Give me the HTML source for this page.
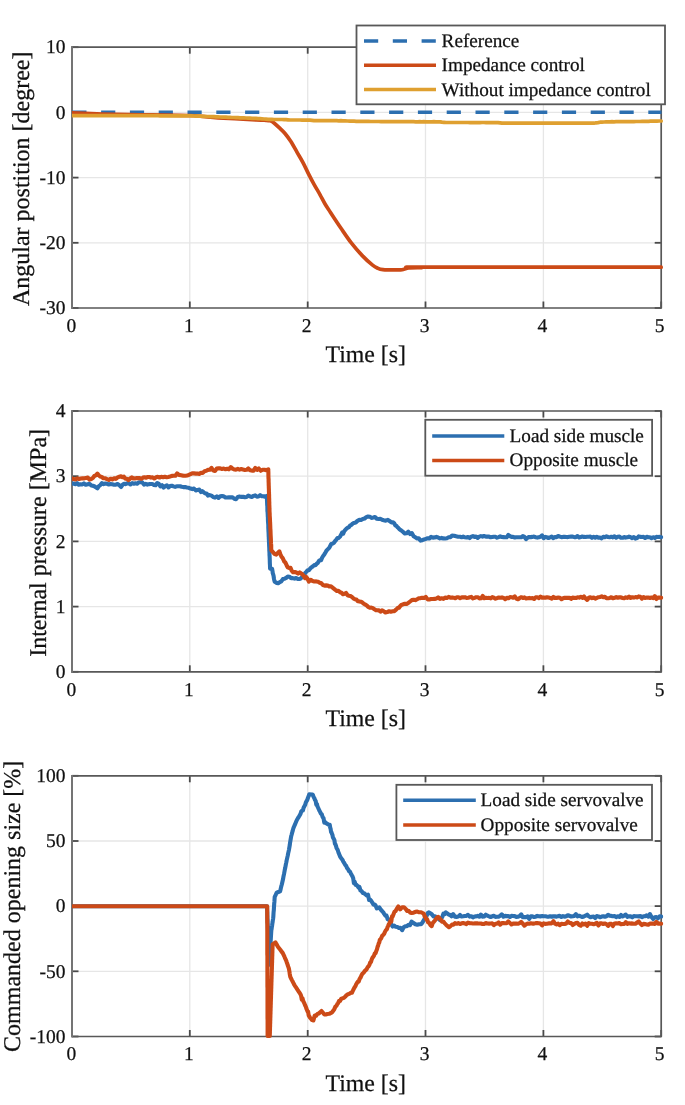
<!DOCTYPE html>
<html><head><meta charset="utf-8"><style>
html,body{margin:0;padding:0;background:#fff;}
svg{display:block;}
text{font-family:"Liberation Serif",serif;fill:#111;text-rendering:geometricPrecision;stroke:#111;stroke-width:0.25px;}
svg{will-change:transform;}
</style></head><body>
<svg width="685" height="1105" viewBox="0 0 685 1105">
<rect width="685" height="1105" fill="#fff"/>
<defs><clipPath id="clip0"><rect x="72.0" y="44.2" width="591.4" height="266.8"/></clipPath><clipPath id="clip1"><rect x="72.0" y="408.0" width="591.4" height="266.8"/></clipPath><clipPath id="clip2"><rect x="72.0" y="772.8" width="591.4" height="266.7"/></clipPath></defs>
<line x1="189.8" y1="47.2" x2="189.8" y2="308.0" stroke="#e6e6e6" stroke-width="1.3"/>
<line x1="307.7" y1="47.2" x2="307.7" y2="308.0" stroke="#e6e6e6" stroke-width="1.3"/>
<line x1="425.5" y1="47.2" x2="425.5" y2="308.0" stroke="#e6e6e6" stroke-width="1.3"/>
<line x1="543.4" y1="47.2" x2="543.4" y2="308.0" stroke="#e6e6e6" stroke-width="1.3"/>
<line x1="72.0" y1="112.4" x2="661.2" y2="112.4" stroke="#e6e6e6" stroke-width="1.3"/>
<line x1="72.0" y1="177.6" x2="661.2" y2="177.6" stroke="#e6e6e6" stroke-width="1.3"/>
<line x1="72.0" y1="242.8" x2="661.2" y2="242.8" stroke="#e6e6e6" stroke-width="1.3"/>
<line x1="72.0" y1="308.0" x2="72.0" y2="301.5" stroke="#4a4a4a" stroke-width="1.8"/>
<line x1="72.0" y1="47.2" x2="72.0" y2="53.7" stroke="#4a4a4a" stroke-width="1.8"/>
<line x1="189.8" y1="308.0" x2="189.8" y2="301.5" stroke="#4a4a4a" stroke-width="1.8"/>
<line x1="189.8" y1="47.2" x2="189.8" y2="53.7" stroke="#4a4a4a" stroke-width="1.8"/>
<line x1="307.7" y1="308.0" x2="307.7" y2="301.5" stroke="#4a4a4a" stroke-width="1.8"/>
<line x1="307.7" y1="47.2" x2="307.7" y2="53.7" stroke="#4a4a4a" stroke-width="1.8"/>
<line x1="425.5" y1="308.0" x2="425.5" y2="301.5" stroke="#4a4a4a" stroke-width="1.8"/>
<line x1="425.5" y1="47.2" x2="425.5" y2="53.7" stroke="#4a4a4a" stroke-width="1.8"/>
<line x1="543.4" y1="308.0" x2="543.4" y2="301.5" stroke="#4a4a4a" stroke-width="1.8"/>
<line x1="543.4" y1="47.2" x2="543.4" y2="53.7" stroke="#4a4a4a" stroke-width="1.8"/>
<line x1="661.2" y1="308.0" x2="661.2" y2="301.5" stroke="#4a4a4a" stroke-width="1.8"/>
<line x1="661.2" y1="47.2" x2="661.2" y2="53.7" stroke="#4a4a4a" stroke-width="1.8"/>
<line x1="72.0" y1="47.2" x2="78.5" y2="47.2" stroke="#4a4a4a" stroke-width="1.8"/>
<line x1="661.2" y1="47.2" x2="654.7" y2="47.2" stroke="#4a4a4a" stroke-width="1.8"/>
<line x1="72.0" y1="112.4" x2="78.5" y2="112.4" stroke="#4a4a4a" stroke-width="1.8"/>
<line x1="661.2" y1="112.4" x2="654.7" y2="112.4" stroke="#4a4a4a" stroke-width="1.8"/>
<line x1="72.0" y1="177.6" x2="78.5" y2="177.6" stroke="#4a4a4a" stroke-width="1.8"/>
<line x1="661.2" y1="177.6" x2="654.7" y2="177.6" stroke="#4a4a4a" stroke-width="1.8"/>
<line x1="72.0" y1="242.8" x2="78.5" y2="242.8" stroke="#4a4a4a" stroke-width="1.8"/>
<line x1="661.2" y1="242.8" x2="654.7" y2="242.8" stroke="#4a4a4a" stroke-width="1.8"/>
<line x1="72.0" y1="308.0" x2="78.5" y2="308.0" stroke="#4a4a4a" stroke-width="1.8"/>
<line x1="661.2" y1="308.0" x2="654.7" y2="308.0" stroke="#4a4a4a" stroke-width="1.8"/>
<path d="M72.0,47.2 H661.2 V308.0 H72.0" fill="none" stroke="#585858" stroke-width="1.7" stroke-linecap="square"/>
<line x1="72.0" y1="46.35" x2="72.0" y2="308.85" stroke="#747474" stroke-width="2"/>
<g clip-path="url(#clip0)">
<line x1="72.3" y1="112.2" x2="661.5" y2="112.2" stroke="#2c6fb0" stroke-width="3.4" stroke-dasharray="14.2 14.6"/>
<path d="M72.0,112.9 C76.2,113.1 87.3,113.6 97.0,113.9 C106.7,114.2 114.5,114.3 130.0,114.6 C145.5,114.9 175.3,115.0 190.0,115.5 C204.7,116.0 207.0,117.1 218.0,117.8 C229.0,118.5 248.0,119.5 256.0,119.9 C264.0,120.3 263.7,120.2 266.0,120.3 C268.3,120.4 268.8,120.4 270.0,120.8 C271.2,121.2 271.9,121.4 273.4,122.5 C274.9,123.6 277.3,125.8 279.2,127.6 C281.1,129.4 283.1,131.2 285.0,133.5 C286.9,135.8 288.9,138.5 290.9,141.5 C292.8,144.5 294.8,148.3 296.7,151.7 C298.6,155.1 300.7,158.2 302.6,161.9 C304.6,165.6 306.5,169.8 308.4,173.6 C310.3,177.4 312.2,181.1 314.2,184.6 C316.1,188.1 318.3,191.5 320.1,194.8 C321.9,198.1 323.5,201.4 325.2,204.3 C326.9,207.2 327.9,208.5 330.5,212.5 C333.1,216.5 337.5,223.2 341.0,228.3 C344.5,233.4 348.0,238.7 351.5,243.2 C355.0,247.7 358.5,251.8 362.0,255.4 C365.5,259.1 369.9,263.0 372.6,265.1 C375.3,267.2 376.3,267.5 378.0,268.3 C379.7,269.1 381.0,269.4 383.0,269.7 C385.0,270.0 387.2,269.9 390.1,269.9 C393.0,269.9 398.3,269.9 400.6,269.8 C402.9,269.7 402.6,269.6 404.0,269.3 C405.4,269.0 405.9,268.2 408.8,267.9 C411.7,267.6 419.1,267.7 421.5,267.6 C423.9,267.5 383.6,267.2 423.5,267.1 C463.4,267.0 621.6,267.2 661.2,267.2" fill="none" stroke="#cc4a17" stroke-width="3.7" stroke-linejoin="round" stroke-linecap="round"/>
<polyline points="72.0,115.6 74.0,115.6 76.0,115.6 78.0,115.6 80.0,115.6 82.0,115.6 84.0,115.6 86.0,115.6 88.0,115.6 90.0,115.6 92.0,115.7 94.0,115.6 96.0,115.7 98.0,115.6 100.0,115.6 102.0,115.7 104.0,115.6 106.0,115.7 108.0,115.7 110.0,115.6 112.0,115.6 114.0,115.7 116.0,115.7 118.0,115.6 120.0,115.6 122.0,115.7 124.0,115.6 126.0,115.6 128.0,115.7 130.0,115.7 132.0,115.7 134.0,115.7 136.0,115.7 138.0,115.7 140.0,115.7 142.0,115.7 144.0,115.7 146.0,115.7 148.0,115.7 150.0,115.7 152.0,115.7 154.0,115.7 156.0,115.7 158.0,115.7 160.0,115.8 162.0,115.8 164.0,115.8 166.0,115.8 168.0,115.8 170.0,115.8 172.0,115.8 174.0,115.8 176.0,115.9 178.0,115.9 180.0,115.9 182.0,115.9 184.0,115.8 186.0,115.9 188.0,115.9 190.0,115.9 192.0,115.9 194.0,116.0 196.0,116.1 198.0,116.2 200.0,116.2 202.0,116.3 204.0,116.4 206.0,116.5 208.0,116.5 210.0,116.6 212.0,116.7 214.0,116.7 216.0,116.8 218.0,116.9 220.0,117.0 222.0,117.1 224.0,117.1 226.0,117.2 228.0,117.3 230.0,117.4 232.0,117.5 234.0,117.5 236.0,117.6 238.0,117.7 240.0,117.8 242.0,117.9 244.0,117.9 246.0,118.0 248.0,118.1 250.0,118.2 252.0,118.3 254.0,118.3 256.0,118.4 258.0,118.6 260.0,118.7 262.0,118.8 264.0,119.0 266.0,119.1 268.0,119.3 270.0,119.4 272.0,119.4 274.0,119.5 276.0,119.5 278.0,119.5 280.0,119.5 282.0,119.5 284.0,119.6 286.0,119.6 288.0,119.8 290.0,120.0 292.0,120.0 294.0,120.0 296.0,120.0 298.0,120.0 300.0,120.0 302.0,120.1 304.0,120.1 306.0,120.1 308.0,120.1 310.0,120.1 312.0,120.3 314.0,120.6 316.1,120.6 318.1,120.6 320.2,120.6 322.3,120.6 324.3,120.7 326.4,120.7 328.5,120.7 330.5,120.7 332.6,120.7 334.7,120.7 336.7,120.7 338.8,120.8 340.9,120.7 342.9,120.8 345.0,120.8 347.5,121.0 350.0,121.2 352.1,121.2 354.1,121.2 356.2,121.3 358.3,121.3 360.3,121.3 362.4,121.3 364.5,121.4 366.5,121.4 368.6,121.4 370.7,121.5 372.7,121.5 374.8,121.5 376.9,121.5 378.9,121.5 381.0,121.6 383.0,121.6 385.1,121.6 387.1,121.6 389.1,121.6 391.2,121.6 393.2,121.7 395.2,121.7 397.3,121.7 399.3,121.6 401.3,121.7 403.4,121.7 405.4,121.7 407.4,121.7 409.5,121.7 411.5,121.7 413.6,121.7 415.6,121.8 417.6,121.8 419.7,121.7 421.7,121.8 423.7,121.7 425.8,121.8 427.8,121.8 429.8,121.8 431.9,121.8 433.9,121.7 435.9,121.8 438.0,121.8 440.0,121.8 442.0,122.1 444.0,122.3 446.0,122.5 448.0,122.5 450.0,122.5 452.0,122.5 454.0,122.5 456.0,122.5 458.0,122.5 460.0,122.5 462.0,122.5 464.0,122.5 466.0,122.5 468.0,122.5 470.0,122.6 472.0,122.5 474.0,122.6 476.0,122.5 478.0,122.6 480.0,122.6 482.0,122.5 484.0,122.5 486.0,122.6 488.0,122.6 490.0,122.6 492.0,122.6 494.0,122.6 496.0,122.6 498.0,122.6 500.0,122.9 502.0,123.2 504.0,123.2 506.0,123.2 508.0,123.2 510.0,123.2 512.0,123.2 514.0,123.2 516.0,123.2 518.0,123.2 520.0,123.2 522.0,123.2 524.0,123.2 526.0,123.2 528.0,123.2 530.0,123.2 532.0,123.2 534.0,123.2 536.0,123.2 538.0,123.2 540.0,123.2 542.0,123.2 544.0,123.2 546.0,123.2 548.0,123.2 550.0,123.2 552.0,123.2 554.0,123.2 556.0,123.2 558.0,123.2 560.0,123.2 562.0,123.2 564.0,123.2 566.0,123.2 568.0,123.2 570.0,123.2 572.0,123.2 574.0,123.2 576.0,123.2 578.0,123.2 580.0,123.2 582.0,123.2 584.0,123.2 586.0,123.2 588.0,123.2 590.0,123.2 592.0,123.2 594.0,123.2 596.0,122.8 598.0,122.6 600.0,122.2 602.0,122.1 604.0,122.0 606.0,121.9 608.0,121.8 610.0,121.8 612.0,121.7 614.0,121.8 616.0,121.7 618.0,121.7 620.0,121.7 622.0,121.7 624.0,121.7 626.0,121.6 628.0,121.6 630.0,121.6 632.0,121.5 634.0,121.6 636.0,121.5 638.0,121.5 640.0,121.5 642.1,121.4 644.2,121.4 646.4,121.3 648.5,121.3 650.6,121.2 652.7,121.2 654.8,121.2 657.0,121.1 659.1,121.0 661.2,121.0" fill="none" stroke="#dfa030" stroke-width="3.7" stroke-linejoin="round" stroke-linecap="round" />
</g>
<text x="71.4" y="331.9" font-size="19.5" text-anchor="middle">0</text>
<text x="188.8" y="331.9" font-size="19.5" text-anchor="middle">1</text>
<text x="306.7" y="331.9" font-size="19.5" text-anchor="middle">2</text>
<text x="424.5" y="331.9" font-size="19.5" text-anchor="middle">3</text>
<text x="542.4" y="331.9" font-size="19.5" text-anchor="middle">4</text>
<text x="659.6" y="331.9" font-size="19.5" text-anchor="middle">5</text>
<text x="65.4" y="53" font-size="19.5" text-anchor="end">10</text>
<text x="65.4" y="119" font-size="19.5" text-anchor="end">0</text>
<text x="65.4" y="184" font-size="19.5" text-anchor="end">-10</text>
<text x="65.4" y="249" font-size="19.5" text-anchor="end">-20</text>
<text x="65.4" y="314" font-size="19.5" text-anchor="end">-30</text>
<line x1="189.8" y1="411.0" x2="189.8" y2="671.8" stroke="#e6e6e6" stroke-width="1.3"/>
<line x1="307.7" y1="411.0" x2="307.7" y2="671.8" stroke="#e6e6e6" stroke-width="1.3"/>
<line x1="425.5" y1="411.0" x2="425.5" y2="671.8" stroke="#e6e6e6" stroke-width="1.3"/>
<line x1="543.4" y1="411.0" x2="543.4" y2="671.8" stroke="#e6e6e6" stroke-width="1.3"/>
<line x1="72.0" y1="476.2" x2="661.2" y2="476.2" stroke="#e6e6e6" stroke-width="1.3"/>
<line x1="72.0" y1="541.4" x2="661.2" y2="541.4" stroke="#e6e6e6" stroke-width="1.3"/>
<line x1="72.0" y1="606.6" x2="661.2" y2="606.6" stroke="#e6e6e6" stroke-width="1.3"/>
<line x1="72.0" y1="671.8" x2="72.0" y2="665.3" stroke="#4a4a4a" stroke-width="1.8"/>
<line x1="72.0" y1="411.0" x2="72.0" y2="417.5" stroke="#4a4a4a" stroke-width="1.8"/>
<line x1="189.8" y1="671.8" x2="189.8" y2="665.3" stroke="#4a4a4a" stroke-width="1.8"/>
<line x1="189.8" y1="411.0" x2="189.8" y2="417.5" stroke="#4a4a4a" stroke-width="1.8"/>
<line x1="307.7" y1="671.8" x2="307.7" y2="665.3" stroke="#4a4a4a" stroke-width="1.8"/>
<line x1="307.7" y1="411.0" x2="307.7" y2="417.5" stroke="#4a4a4a" stroke-width="1.8"/>
<line x1="425.5" y1="671.8" x2="425.5" y2="665.3" stroke="#4a4a4a" stroke-width="1.8"/>
<line x1="425.5" y1="411.0" x2="425.5" y2="417.5" stroke="#4a4a4a" stroke-width="1.8"/>
<line x1="543.4" y1="671.8" x2="543.4" y2="665.3" stroke="#4a4a4a" stroke-width="1.8"/>
<line x1="543.4" y1="411.0" x2="543.4" y2="417.5" stroke="#4a4a4a" stroke-width="1.8"/>
<line x1="661.2" y1="671.8" x2="661.2" y2="665.3" stroke="#4a4a4a" stroke-width="1.8"/>
<line x1="661.2" y1="411.0" x2="661.2" y2="417.5" stroke="#4a4a4a" stroke-width="1.8"/>
<line x1="72.0" y1="411.0" x2="78.5" y2="411.0" stroke="#4a4a4a" stroke-width="1.8"/>
<line x1="661.2" y1="411.0" x2="654.7" y2="411.0" stroke="#4a4a4a" stroke-width="1.8"/>
<line x1="72.0" y1="476.2" x2="78.5" y2="476.2" stroke="#4a4a4a" stroke-width="1.8"/>
<line x1="661.2" y1="476.2" x2="654.7" y2="476.2" stroke="#4a4a4a" stroke-width="1.8"/>
<line x1="72.0" y1="541.4" x2="78.5" y2="541.4" stroke="#4a4a4a" stroke-width="1.8"/>
<line x1="661.2" y1="541.4" x2="654.7" y2="541.4" stroke="#4a4a4a" stroke-width="1.8"/>
<line x1="72.0" y1="606.6" x2="78.5" y2="606.6" stroke="#4a4a4a" stroke-width="1.8"/>
<line x1="661.2" y1="606.6" x2="654.7" y2="606.6" stroke="#4a4a4a" stroke-width="1.8"/>
<line x1="72.0" y1="671.8" x2="78.5" y2="671.8" stroke="#4a4a4a" stroke-width="1.8"/>
<line x1="661.2" y1="671.8" x2="654.7" y2="671.8" stroke="#4a4a4a" stroke-width="1.8"/>
<path d="M72.0,411.0 H661.2 V671.8 H72.0" fill="none" stroke="#585858" stroke-width="1.7" stroke-linecap="square"/>
<line x1="72.0" y1="410.15" x2="72.0" y2="672.65" stroke="#747474" stroke-width="2"/>
<g clip-path="url(#clip1)">
<polyline points="72.0,483.7 73.7,483.5 75.3,484.2 77.0,483.1 78.7,484.7 80.3,484.3 82.0,484.5 83.9,483.4 85.7,484.8 87.6,484.2 89.4,483.8 91.3,485.4 92.8,485.7 94.3,486.2 95.9,487.3 97.4,488.3 98.9,486.1 100.3,485.1 101.8,483.2 103.6,484.1 105.3,483.5 107.1,483.8 108.8,484.5 110.6,484.1 112.3,484.3 114.1,484.8 115.8,484.7 117.6,484.0 119.3,485.1 121.0,487.0 122.5,484.9 123.9,483.7 125.4,484.1 127.1,483.3 128.8,483.4 130.5,484.5 132.2,483.1 133.9,483.7 135.6,483.3 137.2,483.7 138.9,482.2 140.6,482.3 142.3,482.4 144.0,484.6 145.7,483.9 147.4,484.6 149.1,484.1 150.7,484.0 152.3,484.0 153.9,484.9 155.6,485.2 157.2,483.0 158.8,483.9 160.4,486.4 162.0,485.2 163.6,487.5 165.3,486.2 166.9,485.4 168.5,487.4 170.1,486.1 171.8,485.7 173.4,486.4 175.1,486.9 176.7,486.3 178.4,486.3 180.0,486.2 181.7,486.8 183.3,487.1 185.0,487.0 186.9,487.5 188.8,487.8 190.5,488.6 192.3,489.1 194.0,488.5 195.8,490.5 197.5,489.9 199.3,489.6 201.0,492.0 202.4,491.2 203.8,492.4 205.2,493.5 206.6,493.5 208.0,495.6 209.8,495.1 211.5,495.6 213.2,497.0 215.0,497.6 216.8,496.4 218.5,497.9 220.2,496.3 222.0,496.1 223.8,496.3 225.5,497.5 227.2,497.5 229.0,497.3 230.8,497.4 232.5,497.3 234.3,498.8 236.0,499.3 237.8,497.0 239.5,496.6 241.3,496.9 243.1,496.7 244.8,497.3 246.6,497.0 248.3,495.6 250.1,496.5 251.8,496.9 253.6,495.9 255.2,495.4 256.9,496.6 258.6,496.5 260.2,495.2 261.9,496.3 263.5,496.3 265.2,496.9 266.8,496.0 266.9,497.8 267.0,499.5 267.0,500.9 267.1,502.7 267.2,505.4 267.3,504.8 267.4,508.5 267.4,511.1 267.5,511.4 267.6,512.1 267.7,514.2 267.8,516.6 267.9,517.3 267.9,518.8 268.0,521.5 268.1,522.7 268.2,523.9 268.3,525.2 268.3,527.6 268.4,529.5 268.5,532.0 268.6,532.3 268.6,533.4 268.7,536.3 268.8,537.7 268.8,538.9 268.9,539.9 269.0,542.6 269.1,544.3 269.1,545.0 269.2,546.9 269.3,548.8 269.3,550.4 269.4,551.6 269.5,553.0 269.5,555.1 269.6,555.9 269.7,558.1 269.8,560.8 269.8,561.8 269.9,564.1 270.0,565.6 270.0,566.9 270.1,568.6 272.1,568.8 272.5,571.0 272.8,573.4 273.2,574.5 273.6,576.1 274.0,578.9 274.3,580.3 274.7,581.8 276.7,582.9 278.2,583.2 279.8,582.1 281.3,581.4 282.9,579.1 284.6,578.7 286.2,577.9 287.8,576.5 289.4,576.7 291.1,578.1 292.8,578.1 294.4,578.6 296.2,578.1 297.9,579.0 299.7,578.9 301.0,578.3 302.3,576.7 303.4,575.8 304.4,574.6 305.5,572.6 306.5,571.6 307.6,570.3 308.9,570.2 310.2,568.5 311.5,567.2 312.9,566.4 314.2,565.1 315.5,565.2 316.8,563.7 317.9,562.8 319.0,560.9 320.1,560.0 321.1,560.1 322.2,557.5 323.3,555.7 324.3,554.4 325.3,552.7 326.3,550.9 327.2,549.9 328.2,548.9 329.2,547.9 330.2,546.0 331.2,544.0 332.5,543.6 333.7,543.0 335.0,541.2 336.2,539.8 337.5,538.1 338.7,537.9 340.0,536.6 341.1,534.8 342.1,532.7 343.2,533.6 344.2,531.2 345.3,529.9 346.5,528.6 347.8,527.6 349.0,527.1 350.3,525.3 351.5,524.8 352.8,523.5 354.0,522.9 355.8,522.5 357.5,520.8 359.3,519.9 361.0,520.0 362.8,518.9 364.6,518.5 366.3,517.2 368.1,516.5 369.8,516.7 371.5,517.9 373.3,517.5 375.0,517.0 376.8,518.8 378.5,519.0 380.3,518.8 382.0,519.7 383.8,520.2 385.8,520.7 387.9,519.9 389.9,521.3 391.4,522.4 392.8,522.2 394.3,523.4 395.4,525.4 396.4,525.9 397.5,527.2 398.5,528.1 399.6,529.3 401.3,530.5 403.1,531.9 404.8,533.5 406.6,533.3 408.3,531.6 410.1,534.1 411.8,533.1 413.6,536.3 415.3,537.3 417.1,538.4 418.8,538.4 420.6,540.6 422.3,540.2 424.1,539.4 425.8,539.0 427.6,538.2 429.4,538.4 431.1,536.9 432.9,537.6 434.6,537.4 436.4,536.9 438.1,537.5 439.9,538.4 441.6,537.9 443.4,538.4 445.1,538.5 446.9,538.2 448.6,537.3 450.4,537.1 452.1,535.6 454.1,535.7 456.1,536.3 458.0,536.7 460.0,536.7 461.6,537.3 463.2,536.6 464.8,537.3 466.4,537.5 468.0,537.0 469.7,538.1 471.3,536.6 472.9,536.1 474.5,536.9 476.1,536.6 477.7,538.0 479.3,536.7 480.9,536.1 482.5,536.6 484.1,536.0 485.8,536.6 487.4,536.6 489.0,536.5 490.6,537.3 492.2,537.0 493.8,536.7 495.4,536.8 497.0,537.7 498.6,537.1 500.2,536.4 501.8,537.0 503.5,537.1 505.1,537.2 506.7,537.3 508.3,535.0 509.9,536.1 511.5,536.9 513.1,536.9 514.7,537.5 516.3,537.2 517.9,537.3 519.6,537.2 521.2,537.3 522.8,536.0 524.4,536.9 526.0,539.1 527.6,537.7 529.2,537.0 530.8,537.1 532.4,536.9 534.0,536.6 535.7,537.2 537.3,537.6 538.9,537.2 540.5,536.8 542.1,535.4 543.7,538.2 545.3,536.9 546.9,537.3 548.5,538.0 550.1,537.4 551.7,536.6 553.4,538.1 555.0,537.0 556.6,537.2 558.2,536.0 559.8,536.6 561.4,537.2 563.0,536.9 564.6,536.8 566.2,537.0 567.8,537.1 569.5,536.7 571.1,536.6 572.7,536.6 574.3,537.2 575.9,537.1 577.5,536.0 579.1,537.5 580.7,537.1 582.3,536.5 583.9,536.9 585.5,537.0 587.2,536.7 588.8,536.8 590.4,536.6 592.0,537.8 593.6,536.9 595.2,537.7 596.8,536.7 598.4,537.6 600.0,537.5 601.6,538.3 603.3,536.8 604.9,537.2 606.5,536.4 608.1,537.0 609.7,537.3 611.3,536.7 612.9,537.4 614.5,536.3 616.1,537.7 617.7,536.7 619.4,536.5 621.0,537.8 622.6,537.8 624.2,537.0 625.8,537.6 627.4,537.3 629.0,536.6 630.6,537.2 632.2,538.1 633.8,537.1 635.4,538.6 637.1,538.1 638.7,536.4 640.3,536.9 641.9,537.0 643.5,536.9 645.1,538.0 646.7,536.8 648.3,537.3 649.9,537.2 651.5,538.1 653.2,537.2 654.8,538.0 656.4,536.9 658.0,537.0 659.6,536.9 661.2,537.2" fill="none" stroke="#2c6fb0" stroke-width="4.1" stroke-linejoin="round" stroke-linecap="round" />
<polyline points="72.0,478.5 73.8,479.1 75.5,479.4 77.2,478.4 79.0,479.0 80.8,478.5 82.5,478.3 84.3,478.4 86.0,477.9 87.8,477.5 89.5,479.6 91.3,479.0 92.8,478.1 94.3,476.0 95.9,475.4 97.4,473.6 98.9,475.5 100.3,476.6 101.8,477.0 103.5,478.3 105.3,478.2 107.0,479.2 108.8,480.0 110.6,478.7 112.3,479.4 114.1,478.3 115.8,478.9 117.6,477.4 119.3,476.8 121.0,476.3 122.5,477.3 123.9,476.7 125.4,478.7 127.0,478.7 128.6,480.2 130.2,478.5 131.8,477.3 133.4,478.5 135.0,478.4 136.6,478.1 138.2,478.1 139.8,478.1 141.4,478.8 143.0,477.6 144.6,477.2 146.2,477.7 147.8,477.0 149.4,477.0 151.0,477.6 152.6,477.3 154.3,478.5 156.1,477.3 157.8,476.8 159.6,477.5 161.3,476.8 163.1,477.2 164.8,476.7 166.6,477.2 168.3,476.9 170.1,476.5 171.9,475.9 173.6,475.7 175.4,475.8 177.1,473.4 178.9,474.9 181.2,475.2 183.5,475.8 185.2,475.8 187.0,475.4 188.8,474.9 190.5,474.2 192.2,473.2 194.0,473.4 195.8,473.6 197.5,473.6 199.2,473.9 201.0,472.8 202.8,472.9 204.5,471.2 206.3,470.8 208.0,469.9 209.8,469.8 211.5,467.9 213.2,470.5 215.0,470.9 216.8,468.5 218.5,468.2 220.2,468.4 222.0,469.0 223.8,468.6 225.5,469.2 227.3,468.7 229.0,469.3 230.8,467.1 232.5,468.6 234.3,469.5 236.0,469.6 237.8,468.9 239.5,469.6 241.3,469.0 243.1,469.6 244.8,470.0 246.6,469.8 248.3,468.5 250.1,470.2 251.8,470.6 253.6,470.6 255.3,467.9 257.1,469.8 258.8,468.5 260.7,470.8 262.6,469.8 264.5,469.7 266.4,470.2 268.3,469.3 268.3,470.5 268.4,472.6 268.4,475.0 268.5,478.8 268.5,478.4 268.6,479.0 268.6,481.3 268.7,483.5 268.7,484.9 268.8,486.7 268.8,487.7 268.9,489.5 268.9,491.7 269.0,492.3 269.0,493.6 269.1,494.8 269.1,497.1 269.2,498.9 269.2,501.3 269.3,502.0 269.3,504.8 269.4,506.0 269.4,507.5 269.5,508.1 269.5,511.1 269.6,512.4 269.7,513.8 269.7,515.7 269.8,516.8 269.9,518.1 270.0,519.8 270.0,521.6 270.1,522.2 270.2,524.5 270.3,527.1 270.3,528.3 270.4,529.2 270.5,530.9 270.6,533.9 270.6,534.2 270.7,536.2 270.8,537.9 270.9,539.8 270.9,541.2 271.0,543.4 271.1,544.2 271.2,545.5 271.2,548.9 271.3,549.4 271.4,550.4 273.4,552.6 274.7,554.1 276.2,554.6 277.8,552.9 279.3,551.3 280.4,554.2 281.5,556.8 282.6,557.9 283.5,559.8 284.3,561.8 285.2,562.3 286.1,564.0 286.9,565.9 287.8,567.4 289.1,568.0 290.5,567.7 291.8,570.9 293.1,572.2 294.8,572.0 296.4,572.5 298.1,573.6 299.7,572.4 301.6,573.7 303.6,575.7 304.9,578.1 306.2,577.0 307.6,578.8 308.9,581.7 310.7,579.8 312.6,581.0 314.4,581.5 316.3,581.4 318.1,581.7 319.7,582.7 321.4,583.3 323.0,585.0 324.6,585.6 326.1,585.4 327.7,585.6 329.2,586.5 330.7,586.2 332.3,587.4 333.8,588.6 335.4,589.9 336.9,591.0 338.4,590.9 340.0,592.2 341.5,592.7 343.0,594.2 344.5,593.8 346.0,592.9 347.5,595.2 349.0,595.7 350.5,596.1 352.0,597.0 353.4,598.4 354.9,599.2 356.4,599.5 357.8,601.3 359.3,601.4 360.8,601.7 362.3,602.4 363.8,603.8 365.3,604.6 366.8,605.5 368.3,607.0 369.8,607.8 371.3,607.6 372.9,608.2 374.4,609.3 375.9,610.1 377.4,610.2 378.9,610.4 380.5,611.6 382.0,610.3 383.8,611.3 385.5,612.5 387.3,612.1 389.1,611.2 390.8,611.7 392.6,611.3 394.3,611.1 396.1,609.6 397.8,607.8 399.0,607.8 400.1,606.2 401.3,605.0 403.1,604.3 404.8,603.8 406.6,603.9 408.3,602.9 410.1,601.5 411.9,600.1 413.6,599.7 415.4,600.1 417.1,599.2 418.8,598.2 420.6,598.1 422.3,597.7 424.1,598.0 425.8,596.9 427.6,599.4 429.3,599.5 431.1,599.0 432.9,599.0 434.6,598.9 436.4,598.4 438.1,597.4 439.9,598.9 441.6,598.2 443.4,598.9 445.1,597.6 446.9,597.9 448.6,596.9 450.4,597.7 452.1,597.4 453.7,597.7 455.3,598.3 456.9,597.3 458.5,597.3 460.1,598.2 461.8,597.4 463.4,597.4 465.0,597.2 466.6,598.0 468.2,597.8 469.8,597.3 471.4,596.9 473.0,598.4 474.6,597.9 476.2,597.2 477.8,597.2 479.4,598.4 481.1,598.3 482.7,596.0 484.3,598.2 485.9,597.8 487.5,598.0 489.1,597.9 490.7,598.4 492.3,597.1 493.9,597.7 495.5,598.7 497.1,598.1 498.7,597.5 500.4,597.8 502.0,597.4 503.6,597.9 505.2,599.2 506.8,597.8 508.4,598.3 510.0,597.1 511.6,597.2 513.2,597.8 514.8,596.4 516.4,598.6 518.0,599.3 519.7,598.0 521.3,597.2 522.9,598.0 524.5,597.4 526.1,598.4 527.7,598.2 529.3,597.9 530.9,598.2 532.5,598.1 534.1,599.0 535.7,597.3 537.3,597.2 539.0,598.1 540.6,596.6 542.2,597.7 543.8,597.4 545.4,597.7 547.0,597.2 548.6,597.5 550.2,597.9 551.8,598.7 553.4,596.9 555.0,598.0 556.7,597.9 558.3,597.5 559.9,597.7 561.5,599.2 563.1,598.2 564.7,597.7 566.3,597.9 567.9,597.9 569.5,597.8 571.1,598.9 572.7,597.5 574.3,597.9 576.0,598.0 577.6,597.3 579.2,597.6 580.8,596.8 582.4,597.9 584.0,596.4 585.6,598.5 587.2,599.9 588.8,597.8 590.4,597.3 592.0,598.1 593.6,597.5 595.3,598.7 596.9,597.9 598.5,597.2 600.1,597.0 601.7,596.4 603.3,597.3 604.9,596.8 606.5,598.2 608.1,598.3 609.7,598.0 611.3,597.2 612.9,598.3 614.6,597.8 616.2,597.0 617.8,597.8 619.4,597.3 621.0,597.4 622.6,598.0 624.2,598.3 625.8,597.3 627.4,597.9 629.0,596.6 630.6,598.0 632.2,597.2 633.9,597.6 635.5,597.1 637.1,597.4 638.7,596.4 640.3,596.7 641.9,598.6 643.5,597.0 645.1,597.9 646.7,597.6 648.3,597.6 649.9,598.0 651.5,597.5 653.2,598.1 654.8,596.1 656.4,599.0 658.0,597.6 659.6,597.5 661.2,597.7" fill="none" stroke="#cc4a17" stroke-width="4.1" stroke-linejoin="round" stroke-linecap="round" />
</g>
<text x="71.4" y="695.7" font-size="19.5" text-anchor="middle">0</text>
<text x="188.8" y="695.7" font-size="19.5" text-anchor="middle">1</text>
<text x="306.7" y="695.7" font-size="19.5" text-anchor="middle">2</text>
<text x="424.5" y="695.7" font-size="19.5" text-anchor="middle">3</text>
<text x="542.4" y="695.7" font-size="19.5" text-anchor="middle">4</text>
<text x="659.6" y="695.7" font-size="19.5" text-anchor="middle">5</text>
<text x="65.4" y="417" font-size="19.5" text-anchor="end">4</text>
<text x="65.4" y="482" font-size="19.5" text-anchor="end">3</text>
<text x="65.4" y="548" font-size="19.5" text-anchor="end">2</text>
<text x="65.4" y="613" font-size="19.5" text-anchor="end">1</text>
<text x="65.4" y="678" font-size="19.5" text-anchor="end">0</text>
<line x1="189.8" y1="775.8" x2="189.8" y2="1036.5" stroke="#e6e6e6" stroke-width="1.3"/>
<line x1="307.7" y1="775.8" x2="307.7" y2="1036.5" stroke="#e6e6e6" stroke-width="1.3"/>
<line x1="425.5" y1="775.8" x2="425.5" y2="1036.5" stroke="#e6e6e6" stroke-width="1.3"/>
<line x1="543.4" y1="775.8" x2="543.4" y2="1036.5" stroke="#e6e6e6" stroke-width="1.3"/>
<line x1="72.0" y1="841.0" x2="661.2" y2="841.0" stroke="#e6e6e6" stroke-width="1.3"/>
<line x1="72.0" y1="906.1" x2="661.2" y2="906.1" stroke="#e6e6e6" stroke-width="1.3"/>
<line x1="72.0" y1="971.3" x2="661.2" y2="971.3" stroke="#e6e6e6" stroke-width="1.3"/>
<line x1="72.0" y1="1036.5" x2="72.0" y2="1030.0" stroke="#4a4a4a" stroke-width="1.8"/>
<line x1="72.0" y1="775.8" x2="72.0" y2="782.3" stroke="#4a4a4a" stroke-width="1.8"/>
<line x1="189.8" y1="1036.5" x2="189.8" y2="1030.0" stroke="#4a4a4a" stroke-width="1.8"/>
<line x1="189.8" y1="775.8" x2="189.8" y2="782.3" stroke="#4a4a4a" stroke-width="1.8"/>
<line x1="307.7" y1="1036.5" x2="307.7" y2="1030.0" stroke="#4a4a4a" stroke-width="1.8"/>
<line x1="307.7" y1="775.8" x2="307.7" y2="782.3" stroke="#4a4a4a" stroke-width="1.8"/>
<line x1="425.5" y1="1036.5" x2="425.5" y2="1030.0" stroke="#4a4a4a" stroke-width="1.8"/>
<line x1="425.5" y1="775.8" x2="425.5" y2="782.3" stroke="#4a4a4a" stroke-width="1.8"/>
<line x1="543.4" y1="1036.5" x2="543.4" y2="1030.0" stroke="#4a4a4a" stroke-width="1.8"/>
<line x1="543.4" y1="775.8" x2="543.4" y2="782.3" stroke="#4a4a4a" stroke-width="1.8"/>
<line x1="661.2" y1="1036.5" x2="661.2" y2="1030.0" stroke="#4a4a4a" stroke-width="1.8"/>
<line x1="661.2" y1="775.8" x2="661.2" y2="782.3" stroke="#4a4a4a" stroke-width="1.8"/>
<line x1="72.0" y1="775.8" x2="78.5" y2="775.8" stroke="#4a4a4a" stroke-width="1.8"/>
<line x1="661.2" y1="775.8" x2="654.7" y2="775.8" stroke="#4a4a4a" stroke-width="1.8"/>
<line x1="72.0" y1="841.0" x2="78.5" y2="841.0" stroke="#4a4a4a" stroke-width="1.8"/>
<line x1="661.2" y1="841.0" x2="654.7" y2="841.0" stroke="#4a4a4a" stroke-width="1.8"/>
<line x1="72.0" y1="906.1" x2="78.5" y2="906.1" stroke="#4a4a4a" stroke-width="1.8"/>
<line x1="661.2" y1="906.1" x2="654.7" y2="906.1" stroke="#4a4a4a" stroke-width="1.8"/>
<line x1="72.0" y1="971.3" x2="78.5" y2="971.3" stroke="#4a4a4a" stroke-width="1.8"/>
<line x1="661.2" y1="971.3" x2="654.7" y2="971.3" stroke="#4a4a4a" stroke-width="1.8"/>
<line x1="72.0" y1="1036.5" x2="78.5" y2="1036.5" stroke="#4a4a4a" stroke-width="1.8"/>
<line x1="661.2" y1="1036.5" x2="654.7" y2="1036.5" stroke="#4a4a4a" stroke-width="1.8"/>
<path d="M72.0,775.8 H661.2 V1036.5 H72.0" fill="none" stroke="#585858" stroke-width="1.7" stroke-linecap="square"/>
<line x1="72.0" y1="774.9499999999999" x2="72.0" y2="1037.35" stroke="#747474" stroke-width="2"/>
<g clip-path="url(#clip2)">
<polyline points="72.0,906.2 73.6,906.2 75.2,906.2 76.8,906.2 78.4,906.2 80.1,906.2 81.7,906.2 83.3,906.2 84.9,906.2 86.5,906.2 88.1,906.2 89.7,906.2 91.3,906.2 93.0,906.2 94.6,906.2 96.2,906.2 97.8,906.2 99.4,906.2 101.0,906.2 102.6,906.2 104.2,906.2 105.8,906.2 107.5,906.2 109.1,906.2 110.7,906.2 112.3,906.2 113.9,906.2 115.5,906.2 117.1,906.2 118.7,906.2 120.3,906.2 122.0,906.2 123.6,906.2 125.2,906.2 126.8,906.2 128.4,906.2 130.0,906.2 131.6,906.2 133.2,906.2 134.9,906.2 136.5,906.2 138.1,906.2 139.7,906.2 141.3,906.2 142.9,906.2 144.5,906.2 146.1,906.2 147.7,906.2 149.4,906.2 151.0,906.2 152.6,906.2 154.2,906.2 155.8,906.2 157.4,906.2 159.0,906.2 160.6,906.2 162.2,906.2 163.9,906.2 165.5,906.2 167.1,906.2 168.7,906.2 170.3,906.2 171.9,906.2 173.5,906.2 175.1,906.2 176.8,906.2 178.4,906.2 180.0,906.2 181.6,906.2 183.2,906.2 184.8,906.2 186.4,906.2 188.0,906.2 189.6,906.2 191.3,906.2 192.9,906.2 194.5,906.2 196.1,906.2 197.7,906.2 199.3,906.2 200.9,906.2 202.5,906.2 204.1,906.2 205.8,906.2 207.4,906.2 209.0,906.2 210.6,906.2 212.2,906.2 213.8,906.2 215.4,906.2 217.0,906.2 218.7,906.2 220.3,906.2 221.9,906.2 223.5,906.2 225.1,906.2 226.7,906.2 228.3,906.2 229.9,906.2 231.5,906.2 233.2,906.2 234.8,906.2 236.4,906.2 238.0,906.2 239.6,906.2 241.2,906.2 242.8,906.2 244.4,906.2 246.0,906.2 247.7,906.2 249.3,906.2 250.9,906.2 252.5,906.2 254.1,906.2 255.7,906.2 257.3,906.2 258.9,906.2 260.6,906.2 262.2,906.2 263.8,906.2 265.4,906.2 267.0,906.2 267.1,907.8 267.1,909.5 267.2,911.1 267.3,912.7 267.3,914.3 267.4,916.0 267.4,917.6 267.5,919.2 267.6,920.8 267.6,922.5 267.7,924.1 267.8,925.7 267.8,927.3 267.9,929.0 268.0,930.6 268.0,932.2 268.1,933.8 268.1,935.5 268.2,937.1 268.3,938.7 268.3,940.3 268.4,942.0 268.5,943.6 268.5,945.2 268.6,946.8 268.7,948.5 268.7,950.1 268.8,951.7 268.9,953.3 268.9,955.0 269.0,956.6 269.0,958.2 269.1,959.8 269.2,961.5 269.2,963.1 269.3,964.7 269.4,963.1 269.5,961.5 269.6,959.8 269.7,958.2 269.8,956.6 269.9,955.0 270.0,953.4 270.1,951.7 270.2,950.1 270.3,948.5 270.3,946.9 270.4,945.3 270.5,943.7 270.6,942.0 270.7,940.4 270.8,938.8 270.9,937.2 271.0,935.6 271.1,933.9 271.2,932.3 271.3,930.7 271.6,929.0 271.8,927.3 272.1,925.6 272.3,923.9 272.6,922.2 272.8,920.5 273.1,918.8 273.3,917.1 273.4,915.4 273.5,913.7 273.6,912.0 273.8,910.3 273.9,908.6 274.0,907.0 274.1,905.3 274.2,903.6 274.4,901.9 274.5,900.2 274.6,898.5 274.7,896.8 275.7,894.8 276.7,892.7 278.4,892.0 280.1,891.4 280.5,889.7 280.9,887.9 281.3,886.2 281.8,884.5 282.2,882.8 282.6,881.0 283.0,879.3 283.3,877.6 283.6,875.9 284.0,874.2 284.3,872.5 284.6,870.9 284.9,869.2 285.3,867.5 285.6,865.8 285.9,864.1 286.3,862.4 286.6,860.6 287.0,858.9 287.4,857.1 287.8,855.4 288.1,853.6 288.5,851.9 288.9,850.1 289.2,848.4 289.5,846.6 289.8,844.9 290.0,843.1 290.3,841.4 290.6,839.6 290.9,837.9 291.2,836.1 291.7,834.5 292.1,832.8 292.6,831.2 293.0,829.5 293.5,827.9 294.2,826.3 294.9,824.6 295.6,823.0 296.3,821.3 297.0,819.7 297.9,818.2 298.8,816.8 299.6,815.4 300.5,813.9 301.3,811.4 302.1,810.5 302.9,810.5 303.6,807.7 304.4,806.2 305.2,804.8 305.9,802.2 306.6,801.0 307.2,800.1 307.9,798.0 308.6,796.1 309.3,794.3 312.2,794.5 312.9,794.8 313.6,797.0 314.3,798.1 315.0,799.9 315.7,801.0 316.3,804.7 316.9,804.0 317.4,806.2 318.0,807.5 318.6,808.8 319.2,810.2 320.1,811.9 320.9,813.7 321.8,814.2 322.7,817.3 323.5,818.0 324.3,822.7 325.1,822.1 326.6,823.5 328.2,824.4 329.7,824.7 330.2,827.6 330.6,828.7 331.1,832.3 331.5,832.2 332.0,834.0 332.4,834.7 332.9,837.3 333.3,838.1 333.8,838.9 334.4,840.1 334.9,843.6 335.5,844.5 336.1,846.2 336.6,848.2 337.2,849.1 337.8,850.2 338.4,852.3 338.9,853.4 339.5,854.9 340.4,857.1 341.4,858.4 342.4,859.7 343.3,861.7 344.2,863.0 345.2,864.9 346.1,865.7 347.1,868.1 348.0,869.1 349.0,871.2 349.9,871.5 350.9,873.7 351.7,875.1 352.4,876.2 353.2,878.3 353.9,883.1 354.7,881.7 355.6,884.9 356.6,884.9 357.5,886.1 358.5,887.4 359.4,886.9 360.4,890.4 361.7,891.3 362.9,892.9 364.2,893.2 365.5,894.5 366.7,895.5 368.0,894.6 369.1,900.0 370.1,899.6 371.2,900.9 372.3,902.6 373.4,904.6 374.4,904.4 375.5,905.2 376.8,908.4 378.0,907.7 379.3,907.4 380.6,909.4 381.8,910.8 383.1,912.1 384.2,913.9 385.4,915.7 386.5,915.5 387.7,919.3 388.8,919.3 389.8,921.2 390.7,923.3 391.7,924.9 392.6,926.5 394.2,925.6 395.8,926.8 397.4,927.1 398.9,928.0 400.5,927.8 402.1,930.2 403.7,927.2 405.3,926.2 406.9,926.1 408.4,924.9 410.0,925.2 411.6,921.7 413.5,923.0 415.4,924.3 417.3,924.8 419.2,924.3 421.1,924.3 421.9,923.3 422.8,921.9 423.6,920.5 424.5,919.0 425.3,917.8 426.2,916.6 427.0,915.0 427.9,912.9 428.7,912.3 430.3,913.2 431.8,914.2 433.4,916.4 435.1,916.2 436.8,918.0 438.4,918.6 440.1,920.1 441.2,918.6 442.4,916.6 443.5,913.5 444.7,914.2 445.8,912.3 447.2,913.3 448.6,914.5 450.1,915.0 451.5,916.3 453.2,914.1 454.9,916.7 456.6,916.9 458.3,916.6 460.0,914.9 461.6,916.5 463.2,916.3 464.8,916.0 466.4,915.9 468.0,914.8 469.7,916.6 471.3,916.2 472.9,917.4 474.5,916.5 476.1,916.4 477.7,915.8 479.3,916.7 480.9,914.6 482.5,916.6 484.1,916.5 485.8,914.7 487.4,915.7 489.0,916.4 490.6,917.0 492.2,916.3 493.8,915.8 495.4,916.9 497.0,916.8 498.6,916.7 500.2,915.8 501.8,914.3 503.5,916.7 505.1,915.9 506.7,916.1 508.3,916.1 509.9,917.0 511.5,915.8 513.1,916.0 514.7,916.1 516.3,916.9 517.9,916.7 519.6,916.1 521.2,914.3 522.8,917.2 524.4,917.1 526.0,917.1 527.6,916.4 529.2,918.9 530.8,916.4 532.4,916.4 534.0,917.0 535.7,916.7 537.3,915.9 538.9,916.2 540.5,916.4 542.1,916.1 543.7,916.3 545.3,916.3 546.9,916.6 548.5,916.7 550.1,916.3 551.7,916.8 553.4,916.2 555.0,916.4 556.6,916.6 558.2,916.1 559.8,915.9 561.4,917.0 563.0,916.1 564.6,916.7 566.2,916.3 567.8,915.2 569.5,915.8 571.1,916.5 572.7,916.2 574.3,915.9 575.9,914.1 577.5,916.4 579.1,915.7 580.7,916.4 582.3,917.0 583.9,916.5 585.5,915.7 587.2,914.6 588.8,916.3 590.4,917.2 592.0,916.7 593.6,916.5 595.2,918.0 596.8,916.1 598.4,916.4 600.0,917.3 601.6,916.6 603.3,916.3 604.9,916.8 606.5,916.3 608.1,914.8 609.7,915.8 611.3,915.9 612.9,916.3 614.5,916.1 616.1,917.1 617.7,916.2 619.4,917.0 621.0,914.9 622.6,916.4 624.2,915.6 625.8,914.6 627.4,916.9 629.0,916.2 630.6,916.4 632.2,917.3 633.8,916.1 635.4,916.3 637.1,916.3 638.7,916.4 640.3,916.0 641.9,917.2 643.5,916.2 645.1,916.2 646.7,915.4 648.3,916.7 649.9,914.1 651.5,916.9 653.2,919.0 654.8,917.3 656.4,917.0 658.0,918.3 659.6,916.4 661.2,916.5" fill="none" stroke="#2c6fb0" stroke-width="4.1" stroke-linejoin="round" stroke-linecap="round" />
<polyline points="72.0,906.2 73.6,906.2 75.2,906.2 76.8,906.2 78.5,906.2 80.1,906.2 81.7,906.2 83.3,906.2 84.9,906.2 86.5,906.2 88.1,906.2 89.7,906.2 91.4,906.2 93.0,906.2 94.6,906.2 96.2,906.2 97.8,906.2 99.4,906.2 101.0,906.2 102.7,906.2 104.3,906.2 105.9,906.2 107.5,906.2 109.1,906.2 110.7,906.2 112.3,906.2 113.9,906.2 115.6,906.2 117.2,906.2 118.8,906.2 120.4,906.2 122.0,906.2 123.6,906.2 125.2,906.2 126.8,906.2 128.5,906.2 130.1,906.2 131.7,906.2 133.3,906.2 134.9,906.2 136.5,906.2 138.1,906.2 139.8,906.2 141.4,906.2 143.0,906.2 144.6,906.2 146.2,906.2 147.8,906.2 149.4,906.2 151.0,906.2 152.7,906.2 154.3,906.2 155.9,906.2 157.5,906.2 159.1,906.2 160.7,906.2 162.3,906.2 164.0,906.2 165.6,906.2 167.2,906.2 168.8,906.2 170.4,906.2 172.0,906.2 173.6,906.2 175.2,906.2 176.9,906.2 178.5,906.2 180.1,906.2 181.7,906.2 183.3,906.2 184.9,906.2 186.5,906.2 188.2,906.2 189.8,906.2 191.4,906.2 193.0,906.2 194.6,906.2 196.2,906.2 197.8,906.2 199.4,906.2 201.1,906.2 202.7,906.2 204.3,906.2 205.9,906.2 207.5,906.2 209.1,906.2 210.7,906.2 212.4,906.2 214.0,906.2 215.6,906.2 217.2,906.2 218.8,906.2 220.4,906.2 222.0,906.2 223.6,906.2 225.3,906.2 226.9,906.2 228.5,906.2 230.1,906.2 231.7,906.2 233.3,906.2 234.9,906.2 236.5,906.2 238.2,906.2 239.8,906.2 241.4,906.2 243.0,906.2 244.6,906.2 246.2,906.2 247.8,906.2 249.5,906.2 251.1,906.2 252.7,906.2 254.3,906.2 255.9,906.2 257.5,906.2 259.1,906.2 260.7,906.2 262.4,906.2 264.0,906.2 265.6,906.2 267.2,906.2 267.2,907.8 267.2,909.4 267.2,911.0 267.2,912.6 267.2,914.2 267.2,915.8 267.2,917.4 267.2,919.0 267.2,920.6 267.2,922.2 267.3,923.8 267.3,925.4 267.3,927.0 267.3,928.6 267.3,930.2 267.3,931.8 267.3,933.4 267.3,935.0 267.3,936.6 267.3,938.2 267.3,939.9 267.3,941.5 267.3,943.1 267.3,944.7 267.3,946.3 267.3,947.9 267.3,949.5 267.3,951.1 267.3,952.7 267.3,954.3 267.4,955.9 267.4,957.5 267.4,959.1 267.4,960.7 267.4,962.3 267.4,963.9 267.4,965.5 267.4,967.1 267.4,968.7 267.4,970.3 267.4,971.9 267.4,973.5 267.4,975.1 267.4,976.7 267.4,978.3 267.4,979.9 267.4,981.5 267.4,983.1 267.4,984.7 267.4,986.3 267.5,987.9 267.5,989.5 267.5,991.1 267.5,992.7 267.5,994.3 267.5,995.9 267.5,997.5 267.5,999.1 267.5,1000.7 267.5,1002.3 267.5,1004.0 267.5,1005.6 267.5,1007.2 267.5,1008.8 267.5,1010.4 267.5,1012.0 267.5,1013.6 267.5,1015.2 267.5,1016.8 267.5,1018.4 267.6,1020.0 267.6,1021.6 267.6,1023.2 267.6,1024.8 267.6,1026.4 267.6,1028.0 267.6,1029.6 267.6,1031.2 267.6,1032.8 267.6,1034.4 267.6,1036.0 269.8,1036.0 269.8,1034.4 269.9,1032.8 269.9,1031.2 270.0,1029.6 270.0,1028.0 270.1,1026.3 270.1,1024.7 270.2,1023.1 270.2,1021.5 270.3,1019.9 270.3,1018.3 270.4,1016.7 270.4,1015.1 270.5,1013.5 270.5,1011.9 270.6,1010.3 270.6,1008.7 270.7,1007.0 270.7,1005.4 270.8,1003.8 270.8,1002.2 270.9,1000.6 270.9,999.0 271.0,997.4 271.0,995.8 271.1,994.2 271.1,992.6 271.2,991.0 271.2,989.3 271.3,987.7 271.3,986.1 271.4,984.5 271.4,982.9 271.5,981.3 271.5,979.7 271.6,978.1 271.6,976.5 271.7,974.9 271.7,973.3 271.8,971.6 271.8,970.0 271.9,968.4 271.9,966.8 272.0,965.2 272.0,963.6 272.1,962.0 272.1,960.4 272.2,958.8 272.2,957.2 272.3,955.6 272.3,954.0 272.4,952.3 272.4,950.7 272.5,949.1 272.5,947.5 272.6,945.9 272.6,944.3 274.0,943.3 275.4,942.3 276.3,943.9 277.2,945.4 278.1,947.0 279.3,948.5 280.5,950.0 281.6,951.6 282.8,953.1 283.5,954.6 284.2,956.1 284.8,957.6 285.5,959.1 286.2,960.6 286.7,962.2 287.3,963.8 287.8,965.5 288.4,967.1 288.9,968.7 289.2,970.3 289.5,972.0 289.7,973.6 290.0,975.3 290.3,976.9 291.1,978.5 291.9,980.1 292.8,981.8 293.6,983.4 294.4,985.0 295.3,986.4 296.2,987.7 297.1,989.1 298.0,990.5 298.9,991.8 299.8,993.2 300.5,994.3 301.1,995.8 301.8,999.7 302.5,998.4 303.2,1001.0 303.9,1002.4 304.5,1003.7 305.2,1005.5 305.8,1006.7 306.4,1008.6 307.0,1010.0 307.5,1011.4 308.1,1011.7 308.7,1015.4 309.3,1016.4 310.2,1017.9 311.1,1018.8 312.0,1020.1 313.4,1020.4 314.7,1015.6 316.1,1015.8 317.5,1013.9 318.8,1013.5 320.1,1012.2 321.5,1011.0 322.9,1012.6 324.2,1014.4 325.6,1014.5 327.4,1014.0 329.2,1013.8 331.0,1012.9 332.1,1012.2 333.2,1010.7 334.3,1009.2 335.4,1006.7 336.3,1006.0 337.3,1004.1 338.2,1002.9 339.1,1000.9 340.1,1001.0 341.0,999.0 342.4,998.4 343.8,997.9 345.1,996.8 346.5,995.2 347.9,994.3 349.2,993.9 350.6,992.9 352.0,992.8 352.8,990.8 353.7,989.0 354.5,987.5 355.4,986.2 356.2,984.3 357.0,982.9 357.9,981.5 358.7,981.7 359.6,978.9 360.4,977.8 361.4,975.6 362.5,973.6 363.5,972.9 364.5,971.3 365.6,970.2 366.6,969.2 367.7,967.1 368.7,966.2 369.5,964.6 370.2,962.4 371.0,961.9 371.7,959.5 372.5,957.7 373.2,956.7 374.0,955.7 374.7,953.5 375.5,953.2 376.2,951.2 377.0,949.2 377.6,946.7 378.1,945.9 378.6,943.6 379.2,942.7 379.8,940.0 380.3,939.3 381.2,938.3 382.2,935.8 383.1,935.0 384.1,933.9 385.0,931.7 386.0,930.0 386.9,929.3 387.5,927.2 388.2,925.8 388.8,924.3 389.4,923.5 390.1,921.9 390.7,920.5 391.3,921.6 392.0,916.2 392.6,916.6 393.6,914.0 394.5,911.6 395.5,911.2 396.4,909.6 397.4,907.8 398.3,906.5 400.2,909.4 402.1,907.2 404.0,907.3 405.5,908.7 407.0,911.0 408.6,910.7 410.1,912.5 411.6,913.0 413.5,912.7 415.4,911.8 417.3,911.6 419.2,912.3 421.1,912.2 423.0,913.2 423.8,913.7 424.7,916.5 425.5,917.1 426.4,919.7 427.2,919.4 428.1,922.3 428.9,922.5 429.8,924.1 430.6,925.2 431.7,926.2 432.8,922.9 433.9,921.8 434.9,920.5 436.0,919.0 437.1,917.3 438.2,916.8 439.5,918.4 440.7,919.5 442.0,921.7 443.3,921.5 444.5,923.1 445.8,924.4 447.4,925.9 448.9,927.2 450.5,926.1 452.0,924.6 453.5,924.7 455.0,923.1 456.7,923.8 458.3,923.1 460.0,924.0 461.6,923.3 463.2,923.0 464.8,923.4 466.4,924.1 468.0,922.6 469.7,923.2 471.3,923.3 472.9,923.5 474.5,923.4 476.1,923.2 477.7,923.4 479.3,923.5 480.9,923.5 482.5,924.0 484.1,923.9 485.8,923.1 487.4,923.5 489.0,923.6 490.6,923.5 492.2,923.4 493.8,925.1 495.4,923.7 497.0,923.7 498.6,922.5 500.2,924.7 501.8,923.1 503.5,923.1 505.1,923.2 506.7,923.2 508.3,921.4 509.9,922.9 511.5,924.5 513.1,923.6 514.7,923.6 516.3,923.6 517.9,923.8 519.6,923.1 521.2,921.9 522.8,923.6 524.4,925.6 526.0,924.3 527.6,923.5 529.2,923.8 530.8,923.3 532.4,923.6 534.0,923.6 535.7,923.1 537.3,923.1 538.9,923.2 540.5,923.6 542.1,925.4 543.7,923.3 545.3,923.9 546.9,923.8 548.5,923.4 550.1,923.4 551.7,923.4 553.4,921.1 555.0,923.6 556.6,924.4 558.2,923.7 559.8,925.1 561.4,923.7 563.0,924.0 564.6,924.0 566.2,923.5 567.8,921.5 569.5,922.9 571.1,923.0 572.7,925.0 574.3,923.9 575.9,923.1 577.5,922.8 579.1,924.9 580.7,925.7 582.3,923.5 583.9,924.5 585.5,923.6 587.2,925.8 588.8,923.1 590.4,923.8 592.0,923.8 593.6,924.2 595.2,923.7 596.8,922.8 598.4,925.5 600.0,923.4 601.6,923.3 603.3,924.0 604.9,923.5 606.5,924.1 608.1,925.9 609.7,923.9 611.3,923.8 612.9,926.0 614.5,923.5 616.1,923.4 617.7,923.5 619.4,923.0 621.0,924.3 622.6,924.0 624.2,924.0 625.8,922.1 627.4,924.0 629.0,923.2 630.6,923.6 632.2,923.4 633.8,923.8 635.4,923.8 637.1,922.5 638.7,921.4 640.3,923.5 641.9,925.1 643.5,923.9 645.1,924.1 646.7,924.4 648.3,924.7 649.9,923.6 651.5,923.6 653.2,923.5 654.8,923.9 656.4,921.9 658.0,923.7 659.6,923.6 661.2,923.8" fill="none" stroke="#cc4a17" stroke-width="4.1" stroke-linejoin="round" stroke-linecap="round" />
</g>
<text x="71.4" y="1060.4" font-size="19.5" text-anchor="middle">0</text>
<text x="188.8" y="1060.4" font-size="19.5" text-anchor="middle">1</text>
<text x="306.7" y="1060.4" font-size="19.5" text-anchor="middle">2</text>
<text x="424.5" y="1060.4" font-size="19.5" text-anchor="middle">3</text>
<text x="542.4" y="1060.4" font-size="19.5" text-anchor="middle">4</text>
<text x="659.6" y="1060.4" font-size="19.5" text-anchor="middle">5</text>
<text x="65.4" y="782" font-size="19.5" text-anchor="end">100</text>
<text x="65.4" y="847" font-size="19.5" text-anchor="end">50</text>
<text x="65.4" y="912" font-size="19.5" text-anchor="end">0</text>
<text x="65.4" y="978" font-size="19.5" text-anchor="end">-50</text>
<text x="65.4" y="1043" font-size="19.5" text-anchor="end">-100</text>
<text x="365.7" y="362.1" font-size="23.8" text-anchor="middle">Time [s]</text>
<text x="365.7" y="725.9" font-size="23.8" text-anchor="middle">Time [s]</text>
<text x="365.7" y="1090.6" font-size="23.8" text-anchor="middle">Time [s]</text>
<text transform="translate(28.7,178.8) rotate(-90)" font-size="24" text-anchor="middle">Angular postition [degree]</text>
<text transform="translate(45.8,542.9) rotate(-90)" font-size="24" text-anchor="middle">Internal pressure [MPa]</text>
<text transform="translate(20.3,906.3) rotate(-90)" font-size="24" text-anchor="middle">Commanded opening size [&#37;]</text>
<rect x="356.5" y="25.5" width="308.5" height="78.8" fill="#fff" stroke="#585858" stroke-width="1.8"/>
<line x1="364.0" y1="41.0" x2="436.0" y2="41.0" stroke="#2c6fb0" stroke-width="3.5" stroke-dasharray="14.2 14.6"/>
<text x="441.6" y="47.0" font-size="19.2">Reference</text>
<line x1="364.0" y1="65.2" x2="436.0" y2="65.2" stroke="#cc4a17" stroke-width="3.5"/>
<text x="441.6" y="71.2" font-size="19.2">Impedance control</text>
<line x1="364.0" y1="89.6" x2="436.0" y2="89.6" stroke="#dfa030" stroke-width="3.5"/>
<text x="441.6" y="95.6" font-size="19.2">Without impedance control</text>
<rect x="425.3" y="419.8" width="226.8" height="55.9" fill="#fff" stroke="#585858" stroke-width="1.8"/>
<line x1="432.2" y1="435.9" x2="504.3" y2="435.9" stroke="#2c6fb0" stroke-width="3.5"/>
<text x="509.6" y="441.9" font-size="19.2">Load side muscle</text>
<line x1="432.2" y1="460.4" x2="504.3" y2="460.4" stroke="#cc4a17" stroke-width="3.5"/>
<text x="509.6" y="466.4" font-size="19.2">Opposite muscle</text>
<rect x="396.4" y="784.8" width="255.6" height="55.2" fill="#fff" stroke="#585858" stroke-width="1.8"/>
<line x1="403.2" y1="800.2" x2="475.8" y2="800.2" stroke="#2c6fb0" stroke-width="3.5"/>
<text x="480.6" y="806.2" font-size="19.2">Load side servovalve</text>
<line x1="403.2" y1="825.0" x2="475.8" y2="825.0" stroke="#cc4a17" stroke-width="3.5"/>
<text x="480.6" y="831.0" font-size="19.2">Opposite servovalve</text>
</svg>
</body></html>
